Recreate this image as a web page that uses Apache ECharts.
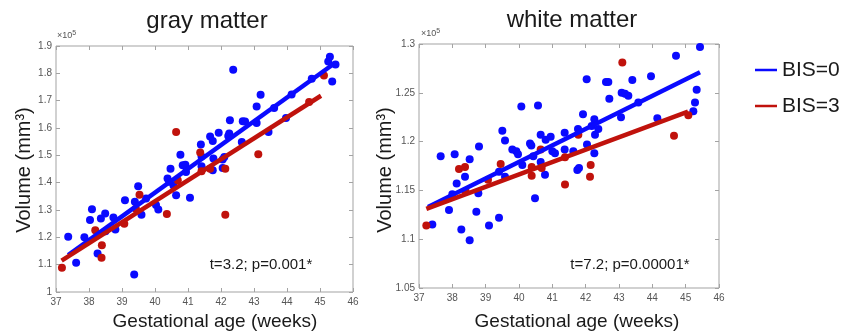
<!DOCTYPE html>
<html>
<head>
<meta charset="utf-8">
<script src="https://cdn.jsdelivr.net/npm/echarts/dist/echarts.min.js"></script>
<style>html,body{margin:0;padding:0;background:#fff}#c{width:848px;height:334px}</style>
</head>
<body>
<div id="c"></div>
<script>
// ---- data (volumes in units of 10^5 mm^3, age in weeks) ----
const weekTicks = [37, 38, 39, 40, 41, 42, 43, 44, 45, 46];
const grayTicks = [1.0, 1.1, 1.2, 1.3, 1.4, 1.5, 1.6, 1.7, 1.8, 1.9];
const whiteTicks = [1.05, 1.1, 1.15, 1.2, 1.25, 1.3];

const grayBIS0 = [
  [37.37,1.202],[37.61,1.107],[37.86,1.2],[38.09,1.303],[38.03,1.263],[38.26,1.141],[38.36,1.269],
  [38.49,1.287],[38.5,1.222],[38.74,1.273],[38.8,1.229],[39.09,1.336],[39.39,1.33],[39.49,1.387],
  [39.59,1.283],[39.73,1.342],[39.37,1.064],[40.03,1.318],[40.1,1.302],[40.38,1.415],[40.43,1.403],
  [40.47,1.451],[40.56,1.39],[40.64,1.354],[40.77,1.502],[40.84,1.464],[40.92,1.466],[40.94,1.439],
  [41.06,1.345],[41.39,1.54],[41.41,1.496],[41.41,1.46],[41.67,1.569],[41.75,1.552],[41.93,1.583],
  [41.75,1.445],[41.77,1.488],[42.05,1.454],[42.05,1.485],[42.1,1.494],[42.22,1.571],[42.25,1.58],
  [42.37,1.813],[42.27,1.628],[42.63,1.549],[42.66,1.625],[42.73,1.624],[43.08,1.618],[43.08,1.679],
  [43.2,1.722],[43.44,1.585],[43.61,1.673],[43.97,1.637],[44.14,1.723],[44.75,1.78],[45.25,1.843],
  [45.3,1.861],[45.37,1.77],[45.47,1.832]
];
const grayBIS3 = [
  [37.18,1.089],[38.19,1.226],[38.39,1.171],[38.38,1.125],[39.07,1.25],[39.42,1.305],[39.53,1.356],
  [40.36,1.285],[40.64,1.585],[40.69,1.409],[41.37,1.51],[41.41,1.442],[41.67,1.451],[42.13,1.451],
  [42.13,1.283],[43.13,1.504],[44.67,1.695],[45.12,1.792]
];
const grayFitBIS0 = [[37.37,1.135],[45.41,1.834]];
const grayFitBIS3 = [[37.17,1.115],[45.03,1.718]];

const whiteBIS0 = [
  [37.4,1.115],[37.65,1.185],[37.9,1.13],[38.0,1.146],[38.07,1.187],[38.13,1.157],[38.27,1.11],
  [38.38,1.164],[38.52,1.182],[38.52,1.099],[38.72,1.128],[38.78,1.147],[38.8,1.195],[39.1,1.114],
  [39.4,1.169],[39.4,1.122],[39.5,1.211],[39.58,1.201],[39.58,1.164],[39.8,1.192],[39.92,1.19],
  [39.97,1.187],[40.07,1.236],[40.1,1.176],[40.33,1.198],[40.37,1.196],[40.43,1.185],[40.48,1.142],
  [40.57,1.237],[40.65,1.207],[40.65,1.179],[40.78,1.166],[40.8,1.202],[40.95,1.205],[41.0,1.19],
  [41.08,1.188],[41.37,1.209],[41.37,1.192],[41.63,1.19],[41.75,1.171],[41.8,1.173],[41.77,1.213],
  [41.92,1.228],[42.04,1.197],[42.26,1.223],[42.28,1.207],[42.26,1.188],[42.18,1.216],[42.38,1.213],
  [42.03,1.264],[42.61,1.261],[42.68,1.261],[42.71,1.244],[43.08,1.25],[43.18,1.249],[43.28,1.247],
  [43.4,1.263],[43.58,1.24],[43.06,1.225],[43.96,1.267],[44.15,1.224],[44.71,1.288],[45.23,1.231],
  [45.28,1.24],[45.33,1.253],[45.43,1.297]
];
const whiteBIS3 = [
  [37.22,1.114],[38.2,1.172],[38.38,1.174],[38.4,1.149],[39.07,1.161],[39.45,1.177],[40.38,1.174],
  [40.38,1.165],[40.65,1.192],[40.68,1.173],[41.38,1.184],[41.38,1.156],[41.78,1.207],[42.15,1.176],
  [42.13,1.164],[43.1,1.281],[44.65,1.206],[45.08,1.227]
];
const whiteFitBIS0 = [[37.27,1.133],[45.43,1.271]];
const whiteFitBIS3 = [[37.22,1.131],[45.07,1.2307]];

const panelTitles = ['gray matter', 'white matter'];
const statTexts = ['t=3.2; p=0.001*', 't=7.2; p=0.00001*'];
const seriesNames = ['BIS=0', 'BIS=3'];

// ---- styling ----
const BLUE = '#0a0aff', RED = '#c0120c';
const BOX = '#a3a3a3', LAB = '#555';
const TFONT = '"Liberation Sans Narrow","Arial Narrow","Liberation Sans",Arial,sans-serif';
const FONT = '"Liberation Sans",Arial,Helvetica,sans-serif';
const fmt = v => String(parseFloat((+v).toFixed(2)));

const grids = [
  {left: 56, top: 46, width: 297, height: 246, show: true, borderColor: BOX, borderWidth: 1},
  {left: 419, top: 44, width: 300, height: 244, show: true, borderColor: BOX, borderWidth: 1}
];
function xAx(gi, pos, showLab) {
  return {type: 'value', gridIndex: gi, position: pos, min: weekTicks[0], max: weekTicks[weekTicks.length-1],
    interval: 1, splitLine: {show: false}, axisLine: {show: false},
    axisTick: {show: true, inside: true, length: 4, lineStyle: {color: BOX}},
    axisLabel: {show: showLab, color: LAB, fontSize: 10, fontFamily: TFONT, margin: 5, formatter: fmt}};
}
function yAx(gi, pos, ticks, showLab) {
  const step = +(ticks[1] - ticks[0]).toFixed(2);
  return {type: 'value', gridIndex: gi, position: pos, min: ticks[0], max: ticks[ticks.length-1],
    interval: step, splitLine: {show: false}, axisLine: {show: false},
    axisTick: {show: true, inside: true, length: 4, lineStyle: {color: BOX}},
    axisLabel: {show: showLab, color: LAB, fontSize: 10, fontFamily: TFONT, margin: 4, formatter: fmt}};
}
const xAxis = [xAx(0,'bottom',true), xAx(0,'top',false), xAx(1,'bottom',true), xAx(1,'top',false)];
const yAxis = [yAx(0,'left',grayTicks,true), yAx(0,'right',grayTicks,false),
               yAx(1,'left',whiteTicks,true), yAx(1,'right',whiteTicks,false)];

function scat(name, data, color, xi, yi) {
  return {name, type: 'scatter', xAxisIndex: xi, yAxisIndex: yi, data, symbolSize: 8,
    itemStyle: {color, opacity: 1}, z: 2, silent: true};
}
function fit(name, data, color, xi, yi) {
  return {name, type: 'line', xAxisIndex: xi, yAxisIndex: yi, data, symbol: 'none',
    lineStyle: {color, width: 4.5}, itemStyle: {color}, z: 3, silent: true};
}
const series = [
  scat(seriesNames[0], grayBIS0, BLUE, 0, 0),
  scat(seriesNames[1], grayBIS3, RED, 0, 0),
  fit(seriesNames[0], grayFitBIS0, BLUE, 0, 0),
  fit(seriesNames[1], grayFitBIS3, RED, 0, 0),
  scat(seriesNames[0], whiteBIS0, BLUE, 2, 2),
  scat(seriesNames[1], whiteBIS3, RED, 2, 2),
  fit(seriesNames[0], whiteFitBIS0, BLUE, 2, 2),
  fit(seriesNames[1], whiteFitBIS3, RED, 2, 2)
];

function txt(x, y, text, size, opts) {
  return Object.assign({type: 'text', x, y, silent: true,
    style: Object.assign({text, fontSize: size, fontFamily: FONT, fill: '#1a1a1a',
      textAlign: 'center', textVerticalAlign: 'middle'}, opts && opts.style || {})},
    opts && opts.el || {});
}
const expStyle = {rich: {b: {fontSize: 9, fill: LAB, fontFamily: TFONT}, s: {fontSize: 7, fill: LAB, fontFamily: TFONT, padding: [0,0,6,0]}}};
const graphic = [
  txt(207, 21, panelTitles[0], 24),
  txt(572, 20, panelTitles[1], 24),
  txt(24, 170, 'Volume (mm³)', 20, {el: {rotation: Math.PI/2}}),
  txt(385, 170, 'Volume (mm³)', 20, {el: {rotation: Math.PI/2}}),
  txt(215, 322, 'Gestational age (weeks)', 19),
  txt(577, 322, 'Gestational age (weeks)', 19),
  txt(261, 265, statTexts[0], 15),
  txt(630, 265, statTexts[1], 15),
  {type: 'text', x: 57, y: 36, silent: true, style: Object.assign({text: '{b|×10}{s|5}', textAlign: 'left', textVerticalAlign: 'middle'}, expStyle)},
  {type: 'text', x: 421, y: 34, silent: true, style: Object.assign({text: '{b|×10}{s|5}', textAlign: 'left', textVerticalAlign: 'middle'}, expStyle)}
];

const chart = echarts.init(document.getElementById('c'), null, {renderer: 'canvas'});
chart.setOption({
  animation: false,
  backgroundColor: '#fff',
  grid: grids,
  xAxis, yAxis, series, graphic,
  legend: {data: seriesNames, orient: 'vertical', left: 750, top: 54, itemGap: 14,
    icon: 'rect', itemWidth: 22, itemHeight: 2.5, selectedMode: false,
    textStyle: {fontSize: 21, color: '#1a1a1a', fontFamily: FONT, lineHeight: 22}}
});
</script>
</body>
</html>
